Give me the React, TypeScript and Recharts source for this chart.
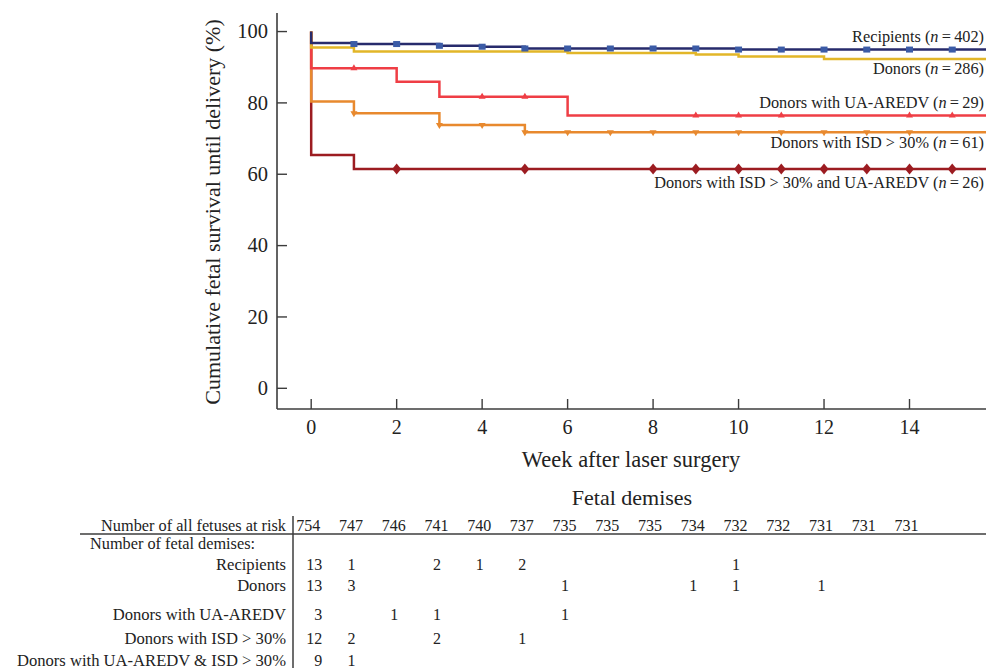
import React from "react";
import { LineChart, Line, XAxis, YAxis, ReferenceDot } from "recharts";

// survival curves (Kaplan-Meier steps): week of step, survival % after the step
const recipientsWeeks = [0, 0, 1, 3, 4, 5, 10];
const recipientsSurv = [100, 96.8, 96.5, 96.0, 95.75, 95.25, 94.95];
const donorsWeeks = [0, 0, 1, 6, 9, 10, 12];
const donorsSurv = [100, 95.5, 94.4, 94.0, 93.6, 93.0, 92.3];
const uaWeeks = [0, 0, 2, 3, 6];
const uaSurv = [100, 89.7, 85.9, 81.7, 76.5];
const isdWeeks = [0, 0, 1, 3, 5];
const isdSurv = [100, 80.4, 77.1, 73.8, 71.8];
const bothWeeks = [0, 0, 1];
const bothSurv = [100, 65.4, 61.5];

// weeks carrying a censoring marker
const recipientsMarks = [1, 2, 3, 4, 5, 6, 7, 8, 9, 10, 11, 12, 13, 14, 15];
const uaMarks = [1, 4, 5, 9, 10, 11, 14, 15];
const isdMarks = [1, 3, 4, 5, 6, 7, 8, 9, 10, 11, 12, 13, 14];
const bothMarks = [2, 5, 8, 9, 10, 11, 12, 13, 14, 15];

const xTicks = [0, 2, 4, 6, 8, 10, 12, 14];
const yTicks = [0, 20, 40, 60, 80, 100];

// table under the chart, one column per week
const tableWeeks = [0, 1, 2, 3, 4, 5, 6, 7, 8, 9, 10, 11, 12, 13, 14];
const atRisk = [754, 747, 746, 741, 740, 737, 735, 735, 735, 734, 732, 732, 731, 731, 731];
const recipientsDeaths = [13, 1, null, 2, 1, 2, null, null, null, null, 1];
const donorsDeaths = [13, 3, null, null, null, null, 1, null, null, 1, 1, null, 1];
const uaDeaths = [3, null, 1, 1, null, null, 1];
const isdDeaths = [12, 2, null, 2, null, 1];
const bothDeaths = [9, 1];

const X_MIN = -0.8;
const X_MAX = 15.79;
const Y_MIN = -5.8;
const Y_MAX = 105.2;

const W = 986;
const H = 671;
const PLOT_LEFT = 277;
const PLOT_TOP = 13;

const FONT = "'Liberation Serif', 'Times New Roman', serif";
const INK = "#222";
const AXIS = "#3c3c3c";

const NAVY = "#272b6c";
const BLUE = "#3b5ba6";
const YELLOW = "#e2b628";
const RED = "#ef3e45";
const ORANGE = "#e8892e";
const DARKRED = "#9c1c21";

const steps = (weeks: number[], surv: number[]) => [
  ...weeks.map((w, i) => ({ w, s: surv[i] })),
  { w: X_MAX, s: surv[surv.length - 1] },
];

const valueAt = (weeks: number[], surv: number[], w: number) => {
  let v = surv[0];
  weeks.forEach((wk, i) => {
    if (wk <= w) v = surv[i];
  });
  return v;
};

const marks = (weeks: number[], surv: number[], at: number[]) =>
  at.map((w) => ({ w, s: valueAt(weeks, surv, w) }));

const square = (p: any) => (
  <rect key={p.key} x={p.cx - 3.5} y={p.cy - 3} width={7} height={6} fill={BLUE} />
);
const triUp = (p: any) => (
  <path key={p.key} d={`M${p.cx - 3.5},${p.cy + 2} L${p.cx + 3.5},${p.cy + 2} L${p.cx},${p.cy - 4} Z`} fill={RED} />
);
const triDown = (p: any) => (
  <path key={p.key} d={`M${p.cx - 3.5},${p.cy - 2} L${p.cx + 3.5},${p.cy - 2} L${p.cx},${p.cy + 4} Z`} fill={ORANGE} />
);
const diamond = (p: any) => (
  <path key={p.key} d={`M${p.cx},${p.cy - 5.5} L${p.cx + 4.5},${p.cy} L${p.cx},${p.cy + 5.5} L${p.cx - 4.5},${p.cy} Z`} fill={DARKRED} />
);

const XTick = (props: any) => {
  const { x, y, payload } = props;
  return (
    <g>
      <line x1={x} x2={x} y1={y} y2={y - 10} stroke={AXIS} strokeWidth={1.4} />
      <text x={x} y={y + 25} textAnchor="middle" fontSize={20} fill={INK} fontFamily={FONT}>
        {payload.value}
      </text>
    </g>
  );
};

const YTick = (props: any) => {
  const { x, y, payload } = props;
  return (
    <g>
      <line x1={x} x2={x + 10} y1={y} y2={y} stroke={AXIS} strokeWidth={1.4} />
      <text x={x - 9} y={y + 6.8} textAnchor="end" fontSize={20.5} fill={INK} fontFamily={FONT}>
        {payload.value}
      </text>
    </g>
  );
};

const seriesLabel = (name: string, n: number, dy: number) => (props: any) => {
  const vb = props.viewBox || {};
  const cx = (vb.x ?? 0) + (vb.width ?? 0) / 2;
  const cy = (vb.y ?? 0) + (vb.height ?? 0) / 2;
  return (
    <text x={cx - 2} y={cy + dy} textAnchor="end" fontSize={16.3} fill={INK} fontFamily={FONT}>
      {name} (<tspan fontStyle="italic">n</tspan>{"\u2009=\u2009"}{n})
    </text>
  );
};

const xPx = (w: number) => PLOT_LEFT + ((w - X_MIN) / (X_MAX - X_MIN)) * (W - PLOT_LEFT);

function DemisesTable() {
  const rows = [
    { label: "Recipients", values: recipientsDeaths, y: 570 },
    { label: "Donors", values: donorsDeaths, y: 591 },
    { label: "Donors with UA-AREDV", values: uaDeaths, y: 620 },
    { label: "Donors with ISD > 30%", values: isdDeaths, y: 644 },
    { label: "Donors with UA-AREDV & ISD > 30%", values: bothDeaths, y: 666 },
  ];
  const cell = (v: number | null, i: number, y: number) =>
    v == null ? null : (
      <text
        key={i}
        x={i === 0 ? xPx(tableWeeks[i]) + 11 : xPx(tableWeeks[i]) - 2.5}
        y={y}
        textAnchor={i === 0 ? "end" : "middle"}
      >
        {v}
      </text>
    );
  return (
    <g fontFamily={FONT} fill={INK} fontSize={16}>
      <text x={632} y={505} textAnchor="middle" fontSize={22}>
        Fetal demises
      </text>
      <text x={286} y={531} textAnchor="end" fontSize={16.3}>
        Number of all fetuses at risk
      </text>
      {atRisk.map((v, i) => (
        <text key={i} x={xPx(tableWeeks[i]) - 3} y={531} textAnchor="middle">
          {v}
        </text>
      ))}
      <line x1={80} x2={W} y1={534} y2={534} stroke={AXIS} strokeWidth={1.3} />
      <line x1={293} x2={293} y1={516} y2={668} stroke={AXIS} strokeWidth={1.5} />
      <text x={90} y={549} fontSize={16.3}>
        Number of fetal demises:
      </text>
      {rows.map((r) => (
        <g key={r.label}>
          <text x={286} y={r.y} textAnchor="end" fontSize={16.6}>
            {r.label}
          </text>
          {r.values.map((v, i) => cell(v, i, r.y))}
        </g>
      ))}
    </g>
  );
}

export default function App() {
  return (
    <div style={{ position: "absolute", left: 0, top: 0, width: W, height: H, background: "#fff" }}>
      <LineChart
        width={W}
        height={H}
        margin={{ top: PLOT_TOP, right: 0, bottom: 202, left: 0 }}
      >
        <XAxis
          type="number"
          dataKey="w"
          domain={[X_MIN, X_MAX]}
          ticks={xTicks}
          allowDataOverflow
          height={60}
          tickSize={0}
          tickMargin={0}
          tick={<XTick />}
          axisLine={{ stroke: AXIS, strokeWidth: 1.6 }}
          interval={0}
        />
        <YAxis
          type="number"
          dataKey="s"
          domain={[Y_MIN, Y_MAX]}
          ticks={yTicks}
          allowDataOverflow
          width={PLOT_LEFT}
          tickSize={0}
          tickMargin={0}
          tick={<YTick />}
          axisLine={{ stroke: AXIS, strokeWidth: 1.6 }}
          interval={0}
        />
        <Line data={steps(bothWeeks, bothSurv)} dataKey="s" type="stepAfter" stroke={DARKRED} strokeWidth={2.5} dot={false} isAnimationActive={false} />
        <Line data={steps(isdWeeks, isdSurv)} dataKey="s" type="stepAfter" stroke={ORANGE} strokeWidth={2.5} dot={false} isAnimationActive={false} />
        <Line data={steps(uaWeeks, uaSurv)} dataKey="s" type="stepAfter" stroke={RED} strokeWidth={2.5} dot={false} isAnimationActive={false} />
        <Line data={steps(donorsWeeks, donorsSurv)} dataKey="s" type="stepAfter" stroke={YELLOW} strokeWidth={2.5} dot={false} isAnimationActive={false} />
        <Line data={steps(recipientsWeeks, recipientsSurv)} dataKey="s" type="stepAfter" stroke={NAVY} strokeWidth={2.5} dot={false} isAnimationActive={false} />

        <Line data={marks(bothWeeks, bothSurv, bothMarks)} dataKey="s" stroke="none" dot={diamond} isAnimationActive={false} />
        <Line data={marks(isdWeeks, isdSurv, isdMarks)} dataKey="s" stroke="none" dot={triDown} isAnimationActive={false} />
        <Line data={marks(uaWeeks, uaSurv, uaMarks)} dataKey="s" stroke="none" dot={triUp} isAnimationActive={false} />
        <Line data={marks(recipientsWeeks, recipientsSurv, recipientsMarks)} dataKey="s" stroke="none" dot={square} isAnimationActive={false} />

        <ReferenceDot x={X_MAX} y={recipientsSurv[recipientsSurv.length - 1]} r={0} ifOverflow="visible" label={seriesLabel("Recipients", 402, -8)} />
        <ReferenceDot x={X_MAX} y={donorsSurv[donorsSurv.length - 1]} r={0} ifOverflow="visible" label={seriesLabel("Donors", 286, 15)} />
        <ReferenceDot x={X_MAX} y={uaSurv[uaSurv.length - 1]} r={0} ifOverflow="visible" label={seriesLabel("Donors with UA-AREDV", 29, -7)} />
        <ReferenceDot x={X_MAX} y={isdSurv[isdSurv.length - 1]} r={0} ifOverflow="visible" label={seriesLabel("Donors with ISD > 30%", 61, 16)} />
        <ReferenceDot x={X_MAX} y={bothSurv[bothSurv.length - 1]} r={0} ifOverflow="visible" label={seriesLabel("Donors with ISD > 30% and UA-AREDV", 26, 19)} />
      </LineChart>
      <svg
        width={W}
        height={H}
        style={{ position: "absolute", left: 0, top: 0, pointerEvents: "none" }}
      >
        <text
          transform="translate(220,212) rotate(-90)"
          textAnchor="middle"
          fontSize={22}
          fill={INK}
          fontFamily={FONT}
        >
          Cumulative fetal survival until delivery (%)
        </text>
        <text x={631} y={467} textAnchor="middle" fontSize={22.5} fill={INK} fontFamily={FONT}>
          Week after laser surgery
        </text>
        <DemisesTable />
      </svg>
    </div>
  );
}
